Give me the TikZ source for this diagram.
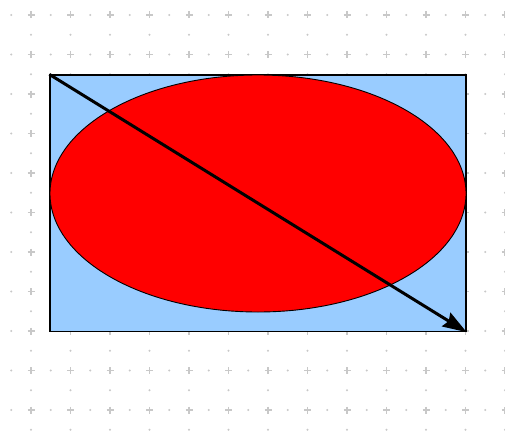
\documentclass[tikz,border=0pt]{standalone}
\usepackage{tikz}
\usetikzlibrary{arrows.meta,shapes.geometric}
\definecolor{skyblue}{HTML}{99CCFF}
\definecolor{dotgray}{HTML}{C8C8C8}

\begin{document}
\begin{tikzpicture}[x=1pt,y=-1pt,
  gridcross/.style={dotgray,line width=1.9pt},
  griddot/.style={fill=dotgray,draw=none},
  framebox/.style={rectangle,draw=black,fill=skyblue,line width=1.3pt,inner sep=0pt},
  oval/.style={ellipse,draw=black,fill=red,line width=0.9pt,inner sep=0pt},
  diag/.style={-{Stealth[length=24pt,width=16pt,inset=3pt]},line width=3pt,black}]
\useasboundingbox (0,0) rectangle (505,436);
\foreach \i in {0,...,12}{
  \foreach \j in {0,...,10}{
    \draw[gridcross] (31+39.5*\i-3.5,15+39.5*\j)--(31+39.5*\i+3.5,15+39.5*\j)
      (31+39.5*\i,15+39.5*\j-3.5)--(31+39.5*\i,15+39.5*\j+3.5);
    \fill[griddot] (11.25+39.5*\i,15+39.5*\j) circle (1.1pt);
    \fill[griddot] (31+39.5*\i,34.75+39.5*\j) circle (1.1pt);}}
\node[framebox,minimum width=416pt,minimum height=256.5pt] (frame) at (258,203.25) {};
\node[oval,minimum width=416pt,minimum height=237pt] (disc) at (258,193.5) {};
\draw[diag] (frame.north west) -- (frame.south east);
\end{tikzpicture}
\end{document}
